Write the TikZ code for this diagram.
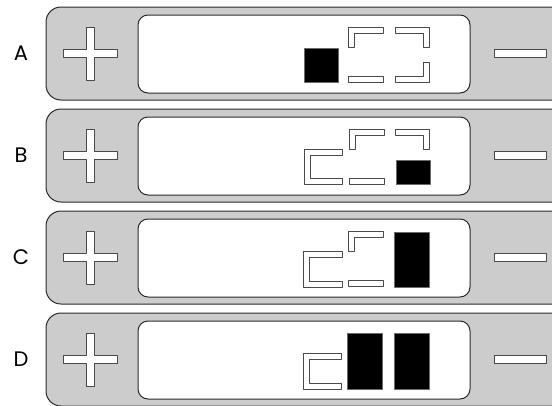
\documentclass[tikz,border=0pt]{standalone}
\usepackage{fontspec}
\newfontfamily\lblfont{Poppins}
\usetikzlibrary{positioning}

\definecolor{panelgray}{HTML}{CCCCCC}
\definecolor{edgegray}{HTML}{2A2A2A}

\begin{document}
\begin{tikzpicture}[x=1pt,y=-1pt,line join=round,
  panel/.style={draw=edgegray,fill=panelgray,line width=1pt,rounded corners=15pt},
  screen/.style={draw=edgegray,fill=white,line width=1pt,rounded corners=10pt},
  seg/.style={draw=edgegray!85,fill=white,line width=0.8pt},
  blk/.style={draw=edgegray!70,fill=black,line width=0.6pt},
  lbl/.style={font=\lblfont\fontsize{21}{21}\selectfont,inner sep=0pt}]
  \useasboundingbox (0,0) rectangle (552,405);
  \clip (0,0) rectangle (552,405);
  % --- frames: body, screen, + and - ---
  \foreach \name [count=\k from 0] in {A,B,C,D}{
    \begin{scope}[yshift=-102pt*\k]
      \draw[panel] (46,7) rectangle (600,100);
      \draw[screen] (138,15) rectangle (470,93);
      \draw[seg] (63,49) -- (86,49) -- (86,27) -- (94,27) -- (94,49) -- (117,49)
        -- (117,57) -- (94,57) -- (94,80) -- (86,80) -- (86,57) -- (63,57) -- cycle;
      \draw[seg] (494,49) rectangle (546,57);
      \node[lbl] (lbl\name) at (21,53) {\name};
    \end{scope}
  }
  % --- panel A ---
  \begin{scope}
    \draw[blk] (304,48) rectangle (338,82);
    \draw[seg] (348,27) -- (383,27) -- (383,33) -- (354,33) -- (354,47) -- (348,47) -- cycle;
    \draw[seg] (395,27) -- (429,27) -- (429,47) -- (423,47) -- (423,33) -- (395,33) -- cycle;
    \draw[seg] (348,76) rectangle (383,82);
    \draw[seg] (423,62) -- (429,62) -- (429,82) -- (395,82) -- (395,76) -- (423,76) -- cycle;
  \end{scope}
  % --- panel B ---
  \begin{scope}[yshift=-102pt]
    \draw[seg] (342,47) -- (304,47) -- (304,82) -- (342,82) -- (342,76) -- (310,76) -- (310,53) -- (342,53) -- cycle;
    \draw[seg] (349,27) -- (384,27) -- (384,33) -- (355,33) -- (355,47) -- (349,47) -- cycle;
    \draw[seg] (395,27) -- (429,27) -- (429,47) -- (423,47) -- (423,33) -- (395,33) -- cycle;
    \draw[seg] (349,76) rectangle (384,82);
    \draw[blk] (396,58) rectangle (430,82);
  \end{scope}
  % --- panel C ---
  \begin{scope}[yshift=-204pt]
    \draw[seg] (342,47) -- (303,47) -- (303,83) -- (342,83) -- (342,77) -- (309,77) -- (309,53) -- (342,53) -- cycle;
    \draw[seg] (348,27) -- (383,27) -- (383,33) -- (354,33) -- (354,47) -- (348,47) -- cycle;
    \draw[seg] (348,76) rectangle (383,82);
    \draw[blk] (394,28) rectangle (429,83);
  \end{scope}
  % --- panel D ---
  \begin{scope}[yshift=-306pt]
    \draw[seg] (341,47) -- (303,47) -- (303,83) -- (341,83) -- (341,77) -- (309,77) -- (309,53) -- (341,53) -- cycle;
    \draw[blk] (347,27) rectangle (382,83);
    \draw[blk] (394,27) rectangle (429,83);
  \end{scope}
\end{tikzpicture}
\end{document}
